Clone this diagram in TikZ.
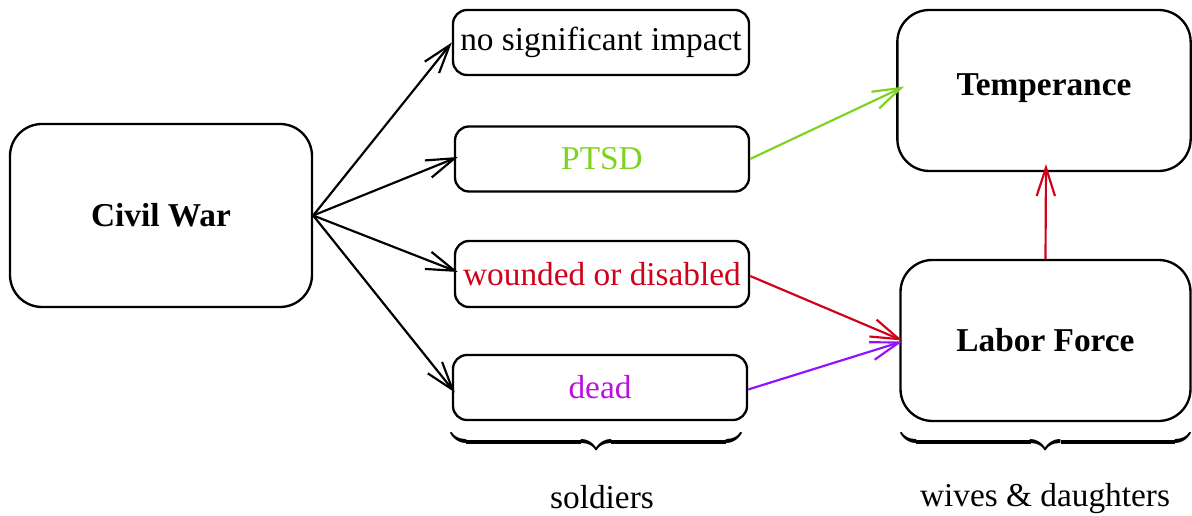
\documentclass[tikz,border=0pt]{standalone}
\usepackage{fontspec}
\setmainfont{Liberation Serif}
\usetikzlibrary{arrows.meta,calc}
\definecolor{cgreen}{RGB}{126,211,33}
\definecolor{cred}{RGB}{208,2,27}
\definecolor{cmag}{RGB}{189,16,224}
\definecolor{cpurple}{RGB}{144,19,254}
\begin{document}
\begin{tikzpicture}[x=0.3pt,y=-0.3pt,
  bigbox/.style={draw,line width=0.7pt,rounded corners=9.6pt,inner sep=0pt,font=\bfseries},
  smallbox/.style={draw,line width=0.7pt,rounded corners=4.2pt,inner sep=0pt,minimum width=88.2pt,minimum height=19.5pt},
  arr/.style={line width=0.65pt,-{Straight Barb[length=8.5pt,width=5.5pt]}},
  bracenode/.style={inner sep=0pt}]
\useasboundingbox (0,0) rectangle (1192,516);
\node[bigbox,minimum width=90.6pt,minimum height=54.9pt] (civil) at (161,215.5) {Civil War};
\node[smallbox,minimum width=88.8pt] (nsi) at (601,42.5) {no significant impact};
\node[smallbox,text=cgreen] (ptsd) at (602,159) {PTSD};
\node[smallbox,text=cred,minimum height=19.8pt] (wound) at (602,274) {wounded or disabled};
\node[smallbox,text=cmag] (dead) at (600,387.5) {dead};
\node[bigbox,minimum width=88pt,minimum height=48.3pt,text depth=3.3pt] (temp) at (1044,90.5) {Temperance};
\node[bigbox,minimum width=87pt,minimum height=48.3pt] (labor) at (1045.5,340.5) {Labor Force};
\node[bracenode] (b1) at (596,442) {$\underbrace{\hspace{87pt}}$};
\node[bracenode] (b2) at (1045.5,442) {$\underbrace{\hspace{86.7pt}}$};
\node (soldiers) at (602,497) {soldiers};
\node (wives) at (1045,499) {wives \& daughters};
\draw[arr] (civil.east) -- (nsi.west);
\draw[arr] (civil.east) -- ($(ptsd.west)+(4,-2)$);
\draw[arr] (civil.east) -- ($(wound.west)+(4,-2)$);
\draw[arr] (civil.east) -- ($(dead.west)+(3,5)$);
\draw[arr,cgreen] (ptsd.east) -- ($(temp.west)+(8,-4)$);
\draw[arr,cred] ($(wound.east)+(0,2)$) -- ($(labor.west)+(3,0)$);
\draw[arr,cpurple] ($(dead.east)+(0,2)$) -- ($(labor.west)+(3,1)$);
\draw[arr,cred] (labor.north) -- ($(temp.south)+(2,-8)$);
\end{tikzpicture}
\end{document}
